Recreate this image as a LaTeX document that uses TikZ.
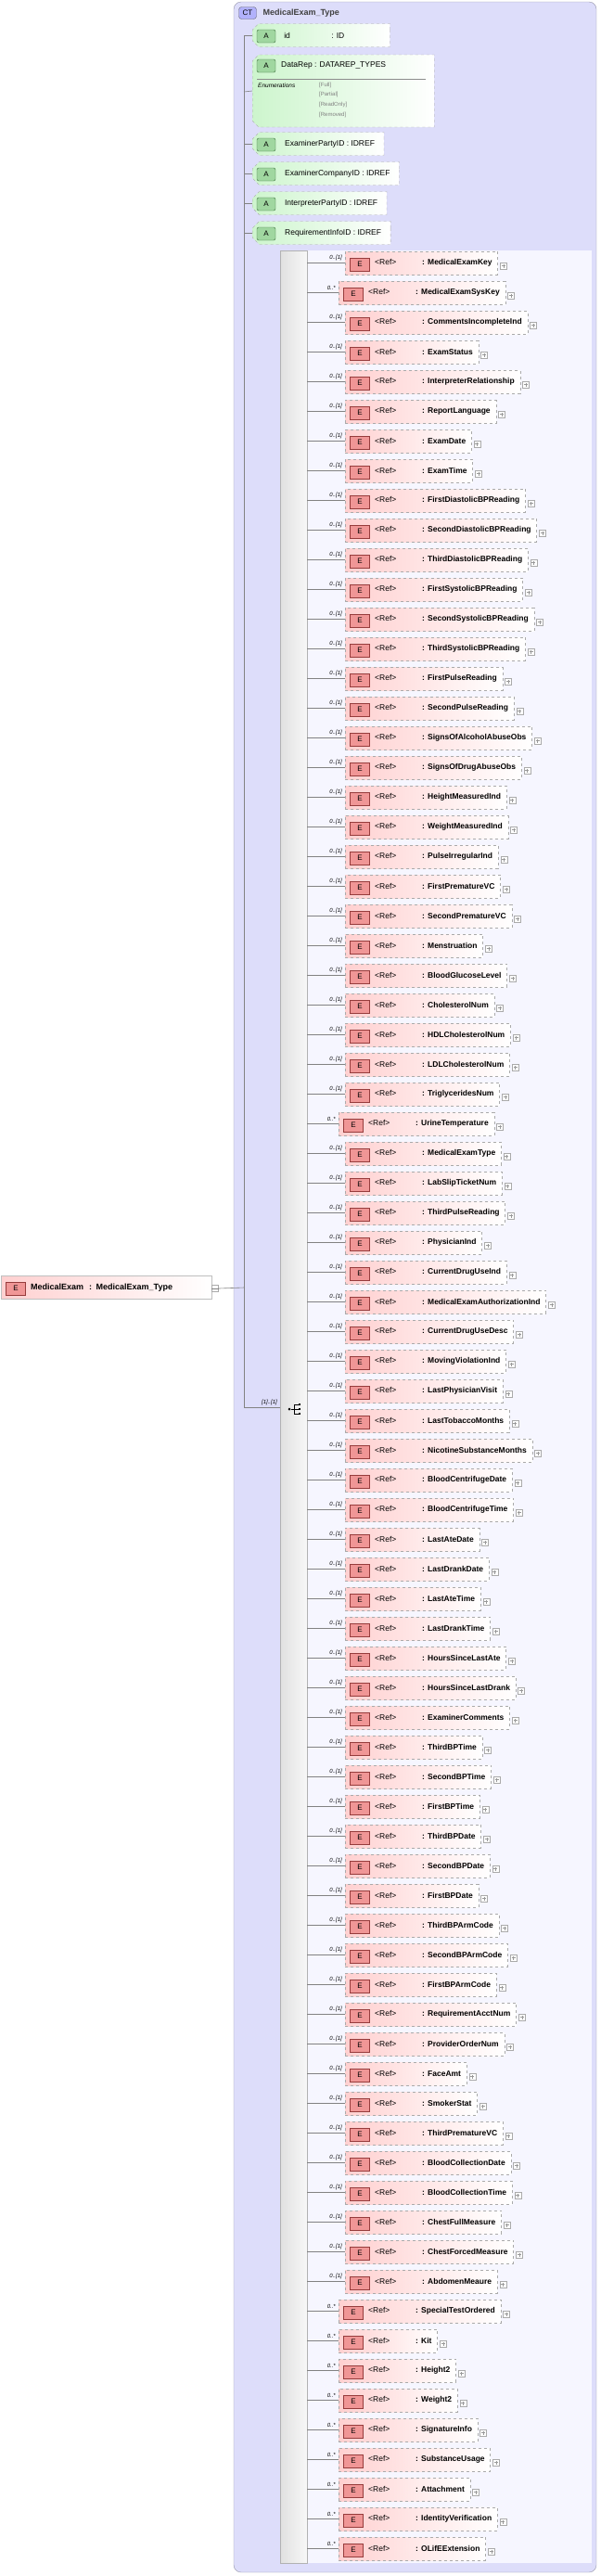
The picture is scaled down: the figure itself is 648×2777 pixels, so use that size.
\documentclass[tikz,border=0pt]{standalone}
\usepackage{fontspec}
\setmainfont{Liberation Sans}
\usetikzlibrary{shapes.misc}
\definecolor{ctfill}{RGB}{221,221,250}
\definecolor{ctin}{RGB}{246,246,255}
\definecolor{ctline}{RGB}{150,150,170}
\definecolor{epink}{RGB}{255,208,208}
\definecolor{eicon}{RGB}{240,150,150}
\definecolor{eborder}{RGB}{150,60,60}
\definecolor{agreen}{RGB}{205,245,205}
\definecolor{aicon}{RGB}{160,215,160}
\definecolor{aborder}{RGB}{60,110,60}
\definecolor{dash}{RGB}{170,170,170}
\definecolor{conn}{RGB}{130,130,130}
\tikzset{
  elem/.style={rectangle, draw=dash, dashed, left color=epink, right color=white, minimum height=25pt, inner xsep=6pt, inner ysep=0pt, font=\fontsize{8.5}{10}\selectfont},
  eic/.style={rectangle, draw=eborder, solid, fill=eicon, minimum width=21pt, minimum height=14pt, inner sep=0pt, font=\fontsize{8}{9}\selectfont},
  attr/.style={chamfered rectangle, chamfered rectangle corners={north west,south west}, chamfered rectangle xsep=5pt, draw=dash, dashed, left color=agreen, right color=white, minimum height=25pt, inner xsep=6pt, inner ysep=0pt, font=\fontsize{8.5}{10}\selectfont},
  aic/.style={rectangle, rounded corners=2pt, draw=aborder, solid, fill=aicon, minimum width=20pt, minimum height=14pt, inner sep=0pt, font=\fontsize{8}{9}\selectfont},
  plusbox/.style={rectangle, draw=dash, solid, fill=white, minimum size=7pt, inner sep=0pt},
  mult/.style={font=\fontsize{6}{7}\itshape, inner sep=1pt},
  cn/.style={draw=conn, line width=0.6pt}
}
\begin{document}
\begin{tikzpicture}[x=1pt,y=-1pt]
\useasboundingbox (0,0) rectangle (648,2777);
% complex type box
\draw[ctline, fill=ctfill, rounded corners=8pt] (252,2) rectangle (643,2773);
\fill[ctin] (331,270) rectangle (638,2763);
\node[rectangle, rounded corners=3pt, draw=ctline!70!black, fill=ctfill!80!blue, minimum width=19pt, minimum height=13pt, inner sep=0pt, font=\fontsize{8}{9}\selectfont] (cticon) at (267,14) {CT};
\node[anchor=west, font=\fontsize{9}{10}\bfseries, text=black!75] (cttitle) at (280,14) {MedicalExam\_Type};
% sequence bar
\shade[left color=black!12, right color=black!3, draw=black!30] (302,270) rectangle (331,2763);
% root element
\node[elem, solid, draw=black!25, anchor=west, minimum width=227pt, text width=215pt, align=left, font=\fontsize{9}{10}\bfseries] (root) at (1,1388) {\hspace*{26pt}MedicalExam\ \ : MedicalExam\_Type};
\node[eic] (rooticon) at (17,1389) {E};
\node[plusbox] (rootminus) at (232,1389) {};
\draw[black!50] (rootminus.west) -- (rootminus.east);
\coordinate (vtop) at (263,38);
\coordinate (vmid) at (263,1388);
\coordinate (vbot) at (263,1517);
\coordinate (seqin) at (302,1517);
\draw[cn] (rootminus.east) -- (vmid);
\draw[cn] (vtop) -- (vbot) -- (seqin);
\node[mult, anchor=south east] (seqmult) at (300,1516) {[1]..[1]};
% sequence icon
\node[circle, fill=black, inner sep=0pt, minimum size=3pt] (sq0) at (312,1519) {};
\foreach \k/\dy in {1/-5,2/0,3/5}{
  \node[rectangle, fill=black, inner sep=0pt, minimum size=2.5pt] (sq\k) at (323,1519+\dy) {};
}
\draw[black, line width=0.6pt] (sq0) -- (317,1519) (317,1514) -- (317,1524) (317,1514) -- (sq1) (sq2) -- (317,1519) (317,1524) -- (sq3);
% attributes
\foreach \nm/\yy/\txt in {aid/38/{\makebox[51pt][l]{id}: ID\hspace*{40pt}}, aexp/155/{ExaminerPartyID : IDREF}, aexc/187/{ExaminerCompanyID : IDREF}, aint/219/{InterpreterPartyID : IDREF}, areq/251/{RequirementInfoID : IDREF}}{
  \coordinate (c\nm) at (263,\yy);
  \node[attr, anchor=west] (\nm) at (272,\yy) {\hspace*{25pt}\txt};
  \node[aic] at (287,\yy+1) {A};
  \draw[cn] (c\nm) -- (\nm.west);
}
% DataRep
\coordinate (cdr) at (263,99);
\node[chamfered rectangle, chamfered rectangle corners={north west,south west}, chamfered rectangle xsep=5pt, draw=dash, dashed, left color=agreen, right color=white, minimum width=196pt, minimum height=78pt, anchor=west] (adr) at (272,98) {};
\draw[cn] (cdr) -- (adr.west);
\node[aic] (adricon) at (287,71) {A};
\node[anchor=west, font=\fontsize{8.5}{10}\selectfont, inner sep=0pt] (adrtxt) at (303,70) {DataRep : DATAREP\_TYPES};
\draw[black!45] (277,85) -- (459,85);
\node[anchor=west, font=\fontsize{6.5}{7}\itshape, inner sep=0pt] (enum) at (278,92) {Enumerations};
\foreach \v/\vy in {Full/92,Partial/102,ReadOnly/113,Removed/124}{
  \node[anchor=west, font=\fontsize{6}{7}\selectfont, text=black!50, inner sep=0pt] at (344,\vy) {[\v]};
}
% elements
\foreach \n/\m [count=\i] in {MedicalExamKey/1,MedicalExamSysKey/s,CommentsIncompleteInd/1,ExamStatus/1,InterpreterRelationship/1,ReportLanguage/1,ExamDate/1,ExamTime/1,FirstDiastolicBPReading/1,SecondDiastolicBPReading/1,ThirdDiastolicBPReading/1,FirstSystolicBPReading/1,SecondSystolicBPReading/1,ThirdSystolicBPReading/1,FirstPulseReading/1,SecondPulseReading/1,SignsOfAlcoholAbuseObs/1,SignsOfDrugAbuseObs/1,HeightMeasuredInd/1,WeightMeasuredInd/1,PulseIrregularInd/1,FirstPrematureVC/1,SecondPrematureVC/1,Menstruation/1,BloodGlucoseLevel/1,CholesterolNum/1,HDLCholesterolNum/1,LDLCholesterolNum/1,TriglyceridesNum/1,UrineTemperature/s,MedicalExamType/1,LabSlipTicketNum/1,ThirdPulseReading/1,PhysicianInd/1,CurrentDrugUseInd/1,MedicalExamAuthorizationInd/1,CurrentDrugUseDesc/1,MovingViolationInd/1,LastPhysicianVisit/1,LastTobaccoMonths/1,NicotineSubstanceMonths/1,BloodCentrifugeDate/1,BloodCentrifugeTime/1,LastAteDate/1,LastDrankDate/1,LastAteTime/1,LastDrankTime/1,HoursSinceLastAte/1,HoursSinceLastDrank/1,ExaminerComments/1,ThirdBPTime/1,SecondBPTime/1,FirstBPTime/1,ThirdBPDate/1,SecondBPDate/1,FirstBPDate/1,ThirdBPArmCode/1,SecondBPArmCode/1,FirstBPArmCode/1,RequirementAcctNum/1,ProviderOrderNum/1,FaceAmt/1,SmokerStat/1,ThirdPrematureVC/1,BloodCollectionDate/1,BloodCollectionTime/1,ChestFullMeasure/1,ChestForcedMeasure/1,AbdomenMeaure/1,SpecialTestOrdered/s,Kit/s,Height2/s,Weight2/s,SignatureInfo/s,SubstanceUsage/s,Attachment/s,IdentityVerification/s,OLifEExtension/s}{
  \pgfmathsetmacro\yy{283+(\i-1)*32}
  \if\m s\def\xs{365}\def\ml{0..*}\else\def\xs{372}\def\ml{0..[1]}\fi
  \coordinate (s\i) at (331,\yy);
  \node[elem, anchor=west] (e\i) at (\xs,\yy+0.5) {\hspace*{26pt}\makebox[51pt][l]{<Ref>}\textbf{: \n}};
  \node[eic] (ei\i) at (\xs+16,\yy+2) {E};
  \node[plusbox] (ep\i) at ([xshift=6pt,yshift=-3pt]e\i.east) {};
  \draw[black!40, line width=0.3pt] ([xshift=-2pt]ep\i.center) -- ([xshift=2pt]ep\i.center) ([yshift=-2pt]ep\i.center) -- ([yshift=2pt]ep\i.center);
  \draw[cn] (s\i) -- (e\i.west |- s\i);
  \node[mult, anchor=south east] (m\i) at (\xs-2,\yy-1) {\ml};
}
\end{tikzpicture}
\end{document}
